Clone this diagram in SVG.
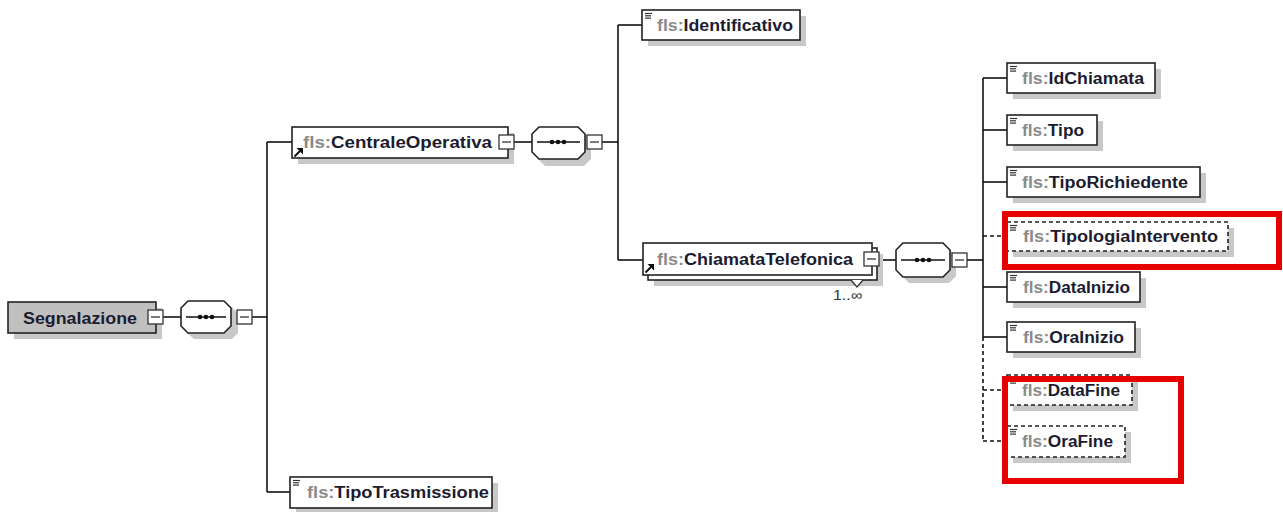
<svg xmlns="http://www.w3.org/2000/svg" width="1283" height="512" viewBox="0 0 1283 512">
<style>
  .shadow { fill: #c8c8c8; }
  .box { fill: #ffffff; stroke: #222; stroke-width: 1.6; }
  .boxd { fill: #ffffff; stroke: #222; stroke-width: 1.6; stroke-dasharray: 4 3; }
  .root { fill: #c0c0c0; stroke: #222; stroke-width: 1.6; }
  .minus { fill: #ffffff; stroke: #333; stroke-width: 1.3; }
  .mline { stroke: #333; stroke-width: 1.3; }
  .conn { stroke: #111; stroke-width: 1.6; fill: none; }
  .connd { stroke: #111; stroke-width: 1.6; fill: none; stroke-dasharray: 4 3; }
  .icon { stroke: #333; stroke-width: 1.2; }
  .txt { font-family: "Liberation Sans", Arial, sans-serif; font-weight: bold; font-size: 16px; fill: #1c1c30; }
  .pre { fill: #8a8a8a; }
  .card { font-family: "Liberation Sans", Arial, sans-serif; font-size: 14px; fill: #333; }
  .red { fill: none; stroke: #e60000; stroke-width: 6; }
  .dot { fill: #111; }
</style>
<defs>
  <g id="elicon">
    <line class="icon" x1="0" y1="0.5" x2="7" y2="0.5"/>
    <line class="icon" x1="0" y1="2.8" x2="6" y2="2.8"/>
    <line class="icon" x1="0" y1="5.1" x2="6" y2="5.1"/>
  </g>
  <g id="reficon">
    <line x1="0.5" y1="8.5" x2="6" y2="3" stroke="#111" stroke-width="2"/>
    <path d="M2.5,0 L9,0 L9,6.5 Z" fill="#111"/>
  </g>
  <g id="minus">
    <rect class="minus" x="0" y="0" width="15" height="14"/>
    <line class="mline" x1="3" y1="7" x2="12" y2="7"/>
  </g>
</defs>

<!-- connectors -->
<g id="connectors">
  <line class="conn" x1="163" y1="317" x2="181" y2="317"/>
  <line class="conn" x1="252" y1="317" x2="267" y2="317"/>
  <line class="conn" x1="267" y1="142" x2="267" y2="492"/>
  <line class="conn" x1="267" y1="142" x2="292" y2="142"/>
  <line class="conn" x1="267" y1="492" x2="290" y2="492"/>
  <line class="conn" x1="514" y1="142" x2="532" y2="142"/>
  <line class="conn" x1="602" y1="142" x2="618" y2="142"/>
  <line class="conn" x1="618" y1="25" x2="618" y2="260"/>
  <line class="conn" x1="618" y1="25" x2="642" y2="25"/>
  <line class="conn" x1="618" y1="260" x2="643" y2="260"/>
  <line class="conn" x1="879" y1="260" x2="896" y2="260"/>
  <line class="conn" x1="967" y1="260" x2="983" y2="260"/>
  <line class="conn" x1="983" y1="78" x2="983" y2="337"/>
  <line class="connd" x1="983" y1="337" x2="983" y2="441"/>
  <line class="conn" x1="983" y1="78" x2="1007" y2="78"/>
  <line class="conn" x1="983" y1="130" x2="1007" y2="130"/>
  <line class="conn" x1="983" y1="182" x2="1007" y2="182"/>
  <line class="connd" x1="983" y1="236" x2="1007" y2="236"/>
  <line class="conn" x1="983" y1="287" x2="1007" y2="287"/>
  <line class="conn" x1="983" y1="337" x2="1007" y2="337"/>
  <line class="connd" x1="983" y1="390" x2="1007" y2="390"/>
  <line class="connd" x1="983" y1="441" x2="1007" y2="441"/>
</g>

<!-- root -->
<g id="Segnalazione">
  <rect class="shadow" x="14" y="308" width="148" height="31"/>
  <rect class="root" x="8" y="302" width="148" height="31"/>
  <text class="txt" x="23" y="324" font-size="17" textLength="114" lengthAdjust="spacingAndGlyphs" fill="#222">Segnalazione</text>
  <use href="#minus" x="148" y="310"/>
</g>

<g id="seq1">
  <path class="shadow" d="M194,307 H232 L238,314 V333 L232,339 H194 L187,333 V314 Z"/>
  <path class="box" d="M188,301 H224 L231,308 V326 L224,333 H188 L181,326 V308 Z"/>
  <line class="conn" x1="186" y1="317" x2="226" y2="317"/>
  <circle class="dot" cx="200" cy="317" r="2.3"/><circle class="dot" cx="206" cy="317" r="2.3"/><circle class="dot" cx="212" cy="317" r="2.3"/>
  <use href="#minus" x="237" y="310"/>
</g>

<g id="CentraleOperativa">
  <rect class="shadow" x="298" y="133" width="216" height="31"/>
  <rect class="box" x="292" y="127" width="216" height="31"/>
  <use href="#reficon" x="294" y="148"/>
  <text class="txt" x="303" y="148" textLength="189" lengthAdjust="spacingAndGlyphs"><tspan class="pre">fls:</tspan>CentraleOperativa</text>
  <use href="#minus" x="499" y="135"/>
</g>

<g id="seq2">
  <path class="shadow" d="M545,133 H584 L591,140 V159 L584,166 H545 L538,159 V140 Z"/>
  <path class="box" d="M539,127 H578 L585,134 V152 L578,159 H539 L532,152 V134 Z"/>
  <line class="conn" x1="537" y1="142" x2="580" y2="142"/>
  <circle class="dot" cx="552" cy="142" r="2.3"/><circle class="dot" cx="558" cy="142" r="2.3"/><circle class="dot" cx="564" cy="142" r="2.3"/>
  <use href="#minus" x="587" y="135"/>
</g>

<g id="Identificativo">
  <rect class="shadow" x="648" y="16" width="158" height="30"/>
  <rect class="box" x="642" y="10" width="158" height="30"/>
  <use href="#elicon" x="645" y="13"/>
  <text class="txt" x="657" y="31" textLength="136" lengthAdjust="spacingAndGlyphs"><tspan class="pre">fls:</tspan>Identificativo</text>
</g>

<g id="ChiamataTelefonica">
  <rect class="shadow" x="654" y="254" width="229" height="32"/>
  <rect class="box" x="648" y="248" width="229" height="32"/>
  <rect class="box" x="643" y="243" width="229" height="32"/>
  <use href="#reficon" x="645" y="264"/>
  <text class="txt" x="657" y="265" textLength="196" lengthAdjust="spacingAndGlyphs"><tspan class="pre">fls:</tspan>ChiamataTelefonica</text>
  <use href="#minus" x="864" y="252"/>
  <path d="M851,280 L857,287 L863,280" fill="#fff" stroke="#333" stroke-width="1.3"/>
  <text class="card" x="833" y="300" textLength="29" lengthAdjust="spacingAndGlyphs">1..∞</text>
</g>

<g id="seq3">
  <path class="shadow" d="M909,249 H949 L956,256 V276 L949,283 H909 L902,276 V256 Z"/>
  <path class="box" d="M903,243 H943 L950,250 V270 L943,277 H903 L896,270 V250 Z"/>
  <line class="conn" x1="901" y1="260" x2="945" y2="260"/>
  <circle class="dot" cx="917" cy="260" r="2.3"/><circle class="dot" cx="923" cy="260" r="2.3"/><circle class="dot" cx="929" cy="260" r="2.3"/>
  <use href="#minus" x="952" y="253"/>
</g>

<g id="IdChiamata">
  <rect class="shadow" x="1013" y="69" width="148" height="30"/>
  <rect class="box" x="1007" y="63" width="148" height="30"/>
  <use href="#elicon" x="1010" y="66"/>
  <text class="txt" x="1022" y="84" textLength="122" lengthAdjust="spacingAndGlyphs"><tspan class="pre">fls:</tspan>IdChiamata</text>
</g>

<g id="Tipo">
  <rect class="shadow" x="1013" y="121" width="90" height="30"/>
  <rect class="box" x="1007" y="115" width="90" height="30"/>
  <use href="#elicon" x="1010" y="118"/>
  <text class="txt" x="1022" y="136" textLength="62" lengthAdjust="spacingAndGlyphs"><tspan class="pre">fls:</tspan>Tipo</text>
</g>

<g id="TipoRichiedente">
  <rect class="shadow" x="1013" y="173" width="193" height="30"/>
  <rect class="box" x="1007" y="167" width="193" height="30"/>
  <use href="#elicon" x="1010" y="170"/>
  <text class="txt" x="1022" y="188" textLength="166" lengthAdjust="spacingAndGlyphs"><tspan class="pre">fls:</tspan>TipoRichiedente</text>
</g>

<g id="TipologiaIntervento">
  <rect class="shadow" x="1013" y="228" width="221" height="29"/>
  <rect class="boxd" x="1007" y="222" width="221" height="29"/>
  <use href="#elicon" x="1010" y="225"/>
  <text class="txt" x="1023" y="242" textLength="195" lengthAdjust="spacingAndGlyphs"><tspan class="pre">fls:</tspan>TipologiaIntervento</text>
</g>

<g id="DataInizio">
  <rect class="shadow" x="1013" y="278" width="133" height="30"/>
  <rect class="box" x="1007" y="272" width="133" height="30"/>
  <use href="#elicon" x="1010" y="275"/>
  <text class="txt" x="1023" y="293" textLength="107" lengthAdjust="spacingAndGlyphs"><tspan class="pre">fls:</tspan>DataInizio</text>
</g>

<g id="OraInizio">
  <rect class="shadow" x="1013" y="328" width="128" height="30"/>
  <rect class="box" x="1007" y="322" width="128" height="30"/>
  <use href="#elicon" x="1010" y="325"/>
  <text class="txt" x="1023" y="343" textLength="101" lengthAdjust="spacingAndGlyphs"><tspan class="pre">fls:</tspan>OraInizio</text>
</g>

<g id="DataFine">
  <rect class="shadow" x="1013" y="381" width="125" height="30"/>
  <rect class="boxd" x="1007" y="375" width="125" height="30"/>
  <use href="#elicon" x="1010" y="378"/>
  <text class="txt" x="1022" y="396" textLength="98" lengthAdjust="spacingAndGlyphs"><tspan class="pre">fls:</tspan>DataFine</text>
</g>

<g id="OraFine">
  <rect class="shadow" x="1013" y="432" width="118" height="31"/>
  <rect class="boxd" x="1007" y="426" width="118" height="31"/>
  <use href="#elicon" x="1010" y="429"/>
  <text class="txt" x="1022" y="447" textLength="91" lengthAdjust="spacingAndGlyphs"><tspan class="pre">fls:</tspan>OraFine</text>
</g>

<g id="TipoTrasmissione">
  <rect class="shadow" x="296" y="483" width="202" height="31"/>
  <rect class="box" x="290" y="477" width="202" height="31"/>
  <use href="#elicon" x="293" y="480"/>
  <text class="txt" x="307" y="498" textLength="182" lengthAdjust="spacingAndGlyphs"><tspan class="pre">fls:</tspan>TipoTrasmissione</text>
</g>

<!-- highlight rectangles -->
<g id="highlights">
  <rect class="red" x="1005" y="214" width="274" height="53"/>
  <rect class="red" x="1005" y="379" width="176" height="102"/>
</g>
</svg>
